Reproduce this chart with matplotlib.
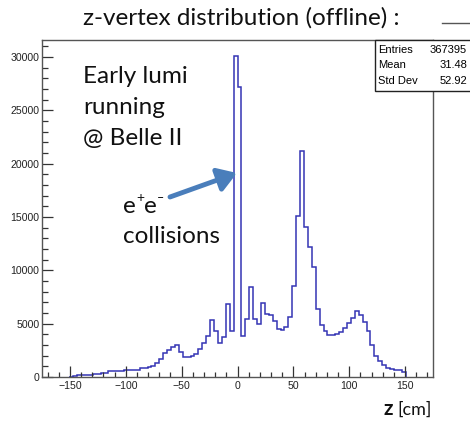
import numpy as np
import matplotlib.pyplot as plt
from matplotlib.patches import Rectangle
from matplotlib.lines import Line2D
from matplotlib.ticker import MultipleLocator

# histogram: 100 bins of 3.5 cm between -175 and 175
z_lo, z_hi, n_bins = -175, 175, 100
counts = [
    0, 0, 0, 0, 0, 0, 0, 40, 60, 150,
    190, 190, 200, 270, 290, 350, 380, 540, 560, 570,
    600, 700, 620, 650, 690, 800, 860, 930, 1020, 1300,
    1700, 2220, 2530, 2780, 2970, 2340, 1850, 1850, 1970, 2180,
    2650, 3190, 3870, 5370, 4310, 3210, 3780, 6870, 4340, 30100,
    27150, 3860, 5430, 8400, 5430, 4940, 6930, 5900, 5780, 5220,
    4470, 4370, 4710, 5650, 8550, 15090, 21150, 14090, 12150, 10280,
    6400, 4840, 4280, 3960, 3960, 4030, 4200, 4600, 5030, 5500,
    6200, 5800, 5200, 4300, 2970, 1970, 1470, 1100, 840, 720,
    660, 620, 480, 0, 0, 0, 0, 0, 0, 0,
]

stats_names = ['Entries', 'Mean', 'Std Dev']
stats_values = ['367395', '31.48', '52.92']

title = 'z-vertex distribution (offline) :'
note_run = ['Early lumi', 'running', '@ Belle II']

W, H = 470, 422
text_font = ['Lato', 'DejaVu Sans']
tick_font = ['Liberation Sans Narrow', 'Liberation Sans', 'DejaVu Sans']
ink = '#111111'


def fp(x, y):
    # image pixel -> figure fraction
    return x / W, 1 - y / H


fig = plt.figure(figsize=(W / 100, H / 100), dpi=100)
l, b = fp(42, 377)
r, t = fp(433, 40)
ax = fig.add_axes([l, b, r - l, t - b])

edges = np.linspace(z_lo, z_hi, n_bins + 1)
c = np.array(counts)
nz = np.nonzero(c)[0]
i0, i1 = nz[0], nz[-1] + 1
ax.stairs(c[i0:i1], edges[i0:i1 + 1], color='#3434b4', lw=1.1)

ax.set_xlim(z_lo, z_hi)
ax.set_ylim(0, 31600)
ax.xaxis.set_major_locator(MultipleLocator(50))
ax.xaxis.set_minor_locator(MultipleLocator(10))
ax.yaxis.set_major_locator(MultipleLocator(5000))
ax.yaxis.set_minor_locator(MultipleLocator(1000))
ax.tick_params(which='both', direction='in', top=False, right=False,
               color='#333333', width=0.9)
ax.tick_params(axis='x', which='major', length=8, pad=3)
ax.tick_params(axis='x', which='minor', length=3.5)
ax.tick_params(axis='y', which='major', length=8, pad=2)
ax.tick_params(axis='y', which='minor', length=4.3)
for lab in ax.get_xticklabels() + ax.get_yticklabels():
    lab.set_family(tick_font)
    lab.set_fontsize(7.6)
    lab.set_color('#222222')
for s in ax.spines.values():
    s.set_color('#555555')
    s.set_linewidth(1.0)

# title and the stub of its box line
fig.text(*fp(241, 25), title, family=text_font, fontsize=17.5,
         ha='center', va='baseline', color=ink)
fig.add_artist(Line2D([442 / W, 1.0], [1 - 23 / H] * 2, color='#555555', lw=1))

# stats box
bx0, by0 = fp(375, 91)
bx1, by1 = fp(472, 39.5)
fig.add_artist(Rectangle((bx0, by0), bx1 - bx0, by1 - by0, transform=fig.transFigure,
                         facecolor='white', edgecolor='#222222', lw=1.0, zorder=5))
for k, (n, v) in enumerate(zip(stats_names, stats_values)):
    y = 53 + 15.5 * k
    fig.text(*fp(378, y), n, family=tick_font, fontsize=8, va='baseline', zorder=6)
    fig.text(*fp(467, y), v, family=tick_font, fontsize=8, va='baseline',
             ha='right', zorder=6)

# annotations
for k, line in enumerate(note_run):
    fig.text(*fp(83, 83 + 31 * k), line, family=text_font, fontsize=17.5,
             va='baseline', color=ink)
fig.text(*fp(123, 213), 'e', family=text_font, fontsize=17.5, va='baseline', color=ink)
fig.text(*fp(136, 202), '+', family=text_font, fontsize=10, va='baseline', color=ink)
fig.text(*fp(144, 213), 'e', family=text_font, fontsize=17.5, va='baseline', color=ink)
fig.text(*fp(157, 202), '\u2013', family=text_font, fontsize=9, va='baseline', color=ink)
fig.text(*fp(123, 243), 'collisions', family=text_font, fontsize=17.5,
         va='baseline', color=ink)
ax.annotate('', xy=fp(237, 173), xycoords='figure fraction',
            xytext=fp(170, 197), textcoords='figure fraction',
            arrowprops=dict(arrowstyle='-|>,head_length=0.7,head_width=0.45',
                            mutation_scale=16, color='#4a7ebb', lw=3.5,
                            shrinkA=0, shrinkB=0))

# axis label
fig.text(*fp(383, 415), 'z', family=text_font, fontsize=15, fontweight='bold',
         va='baseline', color=ink)
fig.text(*fp(397, 415), '[cm]', family=text_font, fontsize=13,
         va='baseline', color=ink)

fig.savefig('out.png', dpi=100)
